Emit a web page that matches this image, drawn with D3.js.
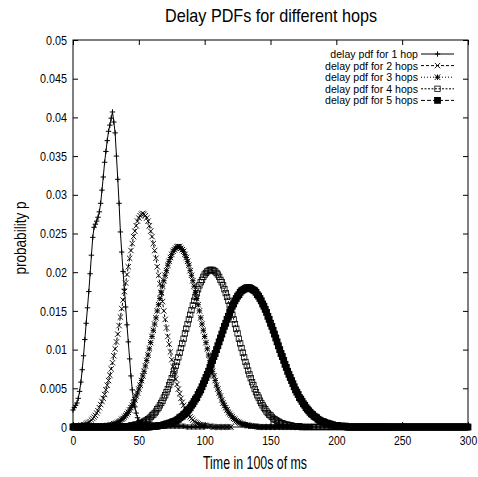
<!DOCTYPE html>
<html><head><meta charset="utf-8">
<script src="https://cdn.jsdelivr.net/npm/d3@7/dist/d3.min.js"></script>
<style>
html,body{margin:0;padding:0;background:#fff;}
svg{display:block;font-family:"Liberation Sans",Arial,Helvetica,sans-serif;}
</style></head>
<body>
<script>
// ---- data ----
const xTicks = [0, 50, 100, 150, 200, 250, 300];
const yTicks = [0, 0.005, 0.01, 0.015, 0.02, 0.025, 0.03, 0.035, 0.04, 0.045, 0.05];
const yTickLabels = ["0", "0.005", "0.01", "0.015", "0.02", "0.025", "0.03", "0.035", "0.04", "0.045", "0.05"];
const seriesNames = ["delay pdf for 1 hop", "delay pdf for 2 hops", "delay pdf for 3 hops", "delay pdf for 4 hops", "delay pdf for 5 hops"];
const sampleStep = 1; // one sample per 100 ms unit, starting at 0

// 1 hop, x = 0..100
const hop1 = [0.0022,0.0025,0.0028,0.0031,0.0037,0.0046,0.0058,0.0074,0.0092,0.0113,
  0.0134,0.0154,0.0175,0.0198,0.0222,0.0245,0.0258,0.0262,0.0266,0.0271,
  0.0278,0.0289,0.0306,0.0323,0.0342,0.0356,0.0370,0.0382,0.0390,0.0399,
  0.0407,0.0394,0.0380,0.0350,0.0320,0.0289,0.0252,0.0226,0.0201,0.0178,
  0.0155,0.0132,0.0110,0.0088,0.0066,0.0048,0.0035,0.0026,0.0018,0.0012,
  0.0008,0.0006,0.0005,0.0005,0.0004,0.0004,0.0004,0.0003,0.0003,0.0003,
  0.0003,0.0002,0.0002,0.0002,0.0002,0.0002,0.0002,0.0002,0.0002,0.0002,
  0.0002,0.0001,0.0001,0.0001,0.0001,0.0001,0.0001,0.0001,0.0001,0.0001,
  0.0001,0.0001,0.0001,0.0001,0.0001,0.0001,0,0,0,0,
  0,0,0,0,0,0,0,0,0,0,0];

// 2 hops, x = 0..120
const hop2 = [0,0,0.0001,0.0001,0.0001,0.0001,0.0002,0.0002,0.0003,0.0003,
  0.0004,0.0005,0.0006,0.0007,0.0009,0.0011,0.0013,0.0015,0.0018,0.0021,
  0.0025,0.0029,0.0033,0.0037,0.0042,0.0048,0.0054,0.0060,0.0067,0.0075,
  0.0083,0.0092,0.0101,0.0110,0.0120,0.0131,0.0142,0.0153,0.0164,0.0175,
  0.0186,0.0197,0.0207,0.0218,0.0228,0.0237,0.0246,0.0253,0.0260,0.0266,
  0.0270,0.0273,0.0275,0.0276,0.0275,0.0273,0.0270,0.0266,0.0260,0.0253,
  0.0246,0.0237,0.0228,0.0218,0.0207,0.0196,0.0185,0.0173,0.0162,0.0150,
  0.0139,0.0128,0.0117,0.0107,0.0097,0.0087,0.0078,0.0070,0.0062,0.0055,
  0.0049,0.0043,0.0037,0.0032,0.0028,0.0024,0.0021,0.0018,0.0015,0.0013,
  0.0011,0.0009,0.0007,0.0006,0.0005,0.0004,0.0003,0.0003,0.0002,0.0002,
  0.0002,0.0002,0.0001,0.0001,0.0001,0.0001,0,0,0,0,
  0,0,0,0,0,0,0,0,0,0,0];

// 3 hops, x = 0..180
const hop3 = [0,0,0,0,0,0,0,0,0,0,
  0,0,0,0,0,0,0,0,0,0,0,
  0.0001,0.0001,0.0001,0.0001,0.0001,0.0002,0.0002,0.0002,0.0003,0.0003,
  0.0004,0.0004,0.0005,0.0006,0.0007,0.0008,0.0010,0.0011,0.0013,0.0015,
  0.0017,0.0019,0.0022,0.0025,0.0028,0.0031,0.0035,0.0040,0.0044,0.0049,
  0.0054,0.0060,0.0066,0.0072,0.0079,0.0086,0.0093,0.0101,0.0109,0.0117,
  0.0125,0.0133,0.0141,0.0150,0.0158,0.0166,0.0174,0.0182,0.0189,0.0196,
  0.0202,0.0209,0.0214,0.0219,0.0223,0.0227,0.0229,0.0231,0.0233,
  0.0233,
  0.0233,0.0231,0.0229,0.0227,0.0223,0.0219,0.0214,0.0209,0.0202,0.0196,
  0.0189,0.0182,0.0174,0.0166,0.0158,0.0150,0.0141,0.0133,0.0125,0.0117,
  0.0109,0.0101,0.0093,0.0086,0.0079,0.0072,0.0066,0.0060,0.0054,0.0049,
  0.0044,0.0040,0.0035,0.0031,0.0028,0.0025,0.0022,0.0019,0.0017,0.0015,
  0.0013,0.0011,0.0010,0.0008,0.0007,0.0006,0.0005,0.0004,0.0004,0.0003,
  0.0003,0.0002,0.0002,0.0002,0.0001,0.0001,0.0001,0.0001,0.0001,
  0,0,0,0,0,0,0,0,0,0,
  0,0,0,0,0,0,0,0,0,0,
  0,0,0,0,0,0,0,0,0,0,
  0,0,0,0,0,0,0,0,0,0,0];

// 4 hops, x = 0..240
const hop4 = [0,0,0,0,0,0,0,0,0,0,
  0,0,0,0,0,0,0,0,0,0,
  0,0,0,0,0,0,0,0,0,0,
  0,0,0,0,0,0,0,0,
  0.0001,0.0001,0.0001,0.0001,0.0001,0.0001,0.0002,0.0002,0.0002,0.0003,
  0.0003,0.0003,0.0004,0.0005,0.0005,0.0006,0.0007,0.0008,0.0009,0.0010,
  0.0011,0.0013,0.0015,0.0016,0.0018,0.0020,0.0023,0.0025,0.0028,0.0031,
  0.0034,0.0038,0.0041,0.0045,0.0049,0.0054,0.0058,0.0063,0.0068,0.0073,
  0.0079,0.0084,0.0090,0.0096,0.0102,0.0108,0.0114,0.0121,0.0127,0.0133,
  0.0139,0.0145,0.0151,0.0157,0.0163,0.0168,0.0173,0.0178,0.0183,0.0187,
  0.0190,0.0194,0.0197,0.0199,0.0201,0.0202,0.0203,
  0.0203,
  0.0203,0.0202,0.0201,0.0199,0.0197,0.0194,0.0190,
  0.0187,0.0183,0.0178,0.0173,0.0168,0.0163,0.0157,0.0151,0.0145,0.0139,
  0.0133,0.0127,0.0121,0.0114,0.0108,0.0102,0.0096,0.0090,0.0084,0.0079,
  0.0073,0.0068,0.0063,0.0058,0.0054,0.0049,0.0045,0.0041,0.0038,0.0034,
  0.0031,0.0028,0.0025,0.0023,0.0020,0.0018,0.0016,0.0015,0.0013,0.0011,
  0.0010,0.0009,0.0008,0.0007,0.0006,0.0005,0.0005,0.0004,0.0003,0.0003,
  0.0003,0.0002,0.0002,0.0002,0.0001,0.0001,0.0001,0.0001,0.0001,0.0001,
  0,0,0,0,0,0,0,0,0,0,
  0,0,0,0,0,0,0,0,0,0,
  0,0,0,0,0,0,0,0,0,0,
  0,0,0,0,0,0,0,0,0,0,
  0,0,0,0,0,0,0,0,0,0,
  0,0,0,0,0,0,0,0,0,0,
  0,0,0,0,0,0,0,0];

// 5 hops, x = 0..300
const hop5 = [0,0,0,0,0,0,0,0,0,0,
  0,0,0,0,0,0,0,0,0,0,
  0,0,0,0,0,0,0,0,0,0,
  0,0,0,0,0,0,0,0,0,0,
  0,0,0,0,0,0,0,0,0,0,
  0,0,0,0,0,0,0,0,0,
  0.0001,0.0001,0.0001,0.0001,0.0001,0.0001,0.0002,0.0002,0.0002,0.0002,
  0.0003,0.0003,0.0004,0.0004,0.0005,0.0005,0.0006,0.0007,0.0007,0.0008,
  0.0009,0.0010,0.0012,0.0013,0.0014,0.0016,0.0017,0.0019,0.0021,0.0023,
  0.0025,0.0028,0.0030,0.0033,0.0036,0.0038,0.0042,0.0045,0.0048,0.0052,
  0.0056,0.0060,0.0064,0.0068,0.0072,0.0077,0.0081,0.0086,0.0091,0.0095,
  0.0100,0.0105,0.0110,0.0115,0.0120,0.0125,0.0130,0.0134,0.0139,0.0143,
  0.0148,0.0152,0.0156,0.0159,0.0163,0.0166,0.0169,0.0171,0.0174,0.0176,
  0.0177,0.0178,0.0179,0.0180,
  0.0180,
  0.0180,0.0179,0.0178,0.0177,
  0.0176,0.0174,0.0171,0.0169,0.0166,0.0163,0.0159,0.0156,0.0152,0.0148,
  0.0143,0.0139,0.0134,0.0130,0.0125,0.0120,0.0115,0.0110,0.0105,0.0100,
  0.0095,0.0091,0.0086,0.0081,0.0077,0.0072,0.0068,0.0064,0.0060,0.0056,
  0.0052,0.0048,0.0045,0.0042,0.0038,0.0036,0.0033,0.0030,0.0028,0.0025,
  0.0023,0.0021,0.0019,0.0017,0.0016,0.0014,0.0013,0.0012,0.0010,0.0009,
  0.0008,0.0007,0.0007,0.0006,0.0005,0.0005,0.0004,0.0004,0.0003,0.0003,
  0.0002,0.0002,0.0002,0.0002,0.0001,0.0001,0.0001,0.0001,0.0001,0.0001,
  0,0,0,0,0,0,0,0,0,0,
  0,0,0,0,0,0,0,0,0,0,
  0,0,0,0,0,0,0,0,0,0,
  0,0,0,0,0,0,0,0,0,0,
  0,0,0,0,0,0,0,0,0,0,
  0,0,0,0,0,0,0,0,0,0,
  0,0,0,0,0,0,0,0,0,0,
  0,0,0,0,0,0,0,0,0,0,
  0,0,0,0,0,0,0,0,0,0,
  0,0,0];

const allSeries = [hop1, hop2, hop3, hop4, hop5];

// ---- layout ----
const W = 478, H = 477;
const M = {left: 73, right: 468, top: 40, bottom: 427};
const dashes = [null, "3,2", "1,2", "2,1.5", "4,2"];
const markerType = ["plus", "cross", "star", "square", "fsquare"];

const svg = d3.select("body").append("svg").attr("width", W).attr("height", H);
const x = d3.scaleLinear().domain([0, 300]).range([M.left, M.right]);
const y = d3.scaleLinear().domain([0, 0.05]).range([M.bottom, M.top]);

function fit(sel, k) {
  sel.each(function() {
    const L = this.getComputedTextLength();
    d3.select(this).attr("textLength", L * k).attr("lengthAdjust", "spacingAndGlyphs");
  });
}

// axes (inward ticks, gnuplot style)
const gB = svg.append("g").attr("transform", `translate(0,${M.bottom})`)
  .call(d3.axisBottom(x).tickValues(xTicks).tickSizeInner(-5).tickSizeOuter(0).tickPadding(9).tickFormat(d3.format("d")));
const gL = svg.append("g").attr("transform", `translate(${M.left},0)`)
  .call(d3.axisLeft(y).tickValues(yTicks).tickSizeInner(-5).tickSizeOuter(0).tickPadding(6).tickFormat((d, i) => yTickLabels[i]));
const gT = svg.append("g").attr("transform", `translate(0,${M.top})`)
  .call(d3.axisTop(x).tickValues(xTicks).tickSizeInner(-5).tickSizeOuter(0).tickFormat(""));
const gR = svg.append("g").attr("transform", `translate(${M.right},0)`)
  .call(d3.axisRight(y).tickValues(yTicks).tickSizeInner(-5).tickSizeOuter(0).tickFormat(""));
[gB, gL, gT, gR].forEach(g => {
  g.select(".domain").remove();
  g.selectAll("line").attr("stroke", "#000").attr("stroke-width", 1);
  g.selectAll("text").attr("fill", "#000").style("font-size", "13px");
});
fit(gB.selectAll("text"), 0.8);
fit(gL.selectAll("text"), 0.83);

svg.append("rect").attr("x", M.left).attr("y", M.top)
  .attr("width", M.right - M.left).attr("height", M.bottom - M.top)
  .attr("fill", "none").attr("stroke", "#000").attr("stroke-width", 1);

// marker drawer
function drawMarker(g, type) {
  const s = 2.7;
  if (type === "plus") g.append("path").attr("d", `M${-s},0H${s}M0,${-s}V${s}`).attr("stroke", "#000").attr("fill", "none");
  else if (type === "cross") g.append("path").attr("d", `M${-s},${-s}L${s},${s}M${-s},${s}L${s},${-s}`).attr("stroke", "#000").attr("stroke-width", 0.9).attr("fill", "none");
  else if (type === "star") g.append("path").attr("d", `M${-s},0H${s}M0,${-s}V${s}M${-s},${-s}L${s},${s}M${-s},${s}L${s},${-s}`).attr("stroke", "#000").attr("fill", "none");
  else if (type === "square") g.append("rect").attr("x", -2.7).attr("y", -2.7).attr("width", 5.4).attr("height", 5.4).attr("stroke", "#000").attr("stroke-width", 0.8).attr("fill", "none");
  else g.append("rect").attr("x", -3.4).attr("y", -3.4).attr("width", 6.8).attr("height", 6.8).attr("fill", "#000");
}

const line = d3.line().x(d => x(d[0])).y(d => y(d[1]));
allSeries.forEach((vals, si) => {
  const pts = vals.map((v, i) => [i * sampleStep, v]);
  const g = svg.append("g");
  g.append("path").datum(pts).attr("d", line).attr("fill", "none")
    .attr("stroke", "#000").attr("stroke-width", 1)
    .attr("stroke-dasharray", dashes[si]);
  g.selectAll("g.m").data(pts).enter().append("g")
    .attr("transform", d => `translate(${x(d[0])},${y(d[1])})`)
    .each(function() { drawMarker(d3.select(this), markerType[si]); });
});

// legend
const legY0 = 54, legDy = 11.6, legTextX = 418, legL0 = 421, legL1 = 454;
const legTexts = [];
seriesNames.forEach((name, i) => {
  const yy = legY0 + i * legDy;
  const t = svg.append("text").attr("x", legTextX).attr("y", yy + 4).attr("text-anchor", "end")
    .style("font-size", "11.5px").attr("fill", "#000").text(name);
  legTexts.push(t);
  svg.append("line").attr("x1", legL0).attr("x2", legL1).attr("y1", yy).attr("y2", yy)
    .attr("stroke", "#000").attr("stroke-width", 1).attr("stroke-dasharray", dashes[i]);
  const mg = svg.append("g").attr("transform", `translate(${(legL0 + legL1) / 2},${yy})`);
  drawMarker(mg, markerType[i]);
});
const legK = 93 / legTexts[1].node().getComputedTextLength();
legTexts.forEach(t => fit(t, legK));

// titles
const title = svg.append("text").attr("x", 271).attr("y", 22).attr("text-anchor", "middle")
  .style("font-size", "19px").attr("fill", "#000").text("Delay PDFs for different hops");
title.attr("textLength", 212).attr("lengthAdjust", "spacingAndGlyphs");
const xl = svg.append("text").attr("x", 255).attr("y", 469).attr("text-anchor", "middle")
  .style("font-size", "19px").attr("fill", "#000").text("Time in 100s of ms");
xl.attr("textLength", 104).attr("lengthAdjust", "spacingAndGlyphs");
const yl = svg.append("text").attr("transform", "translate(26,238) rotate(-90)").attr("text-anchor", "middle")
  .style("font-size", "17px").attr("fill", "#000").text("probability p");
yl.attr("textLength", 73).attr("lengthAdjust", "spacingAndGlyphs");
</script>
</body></html>
